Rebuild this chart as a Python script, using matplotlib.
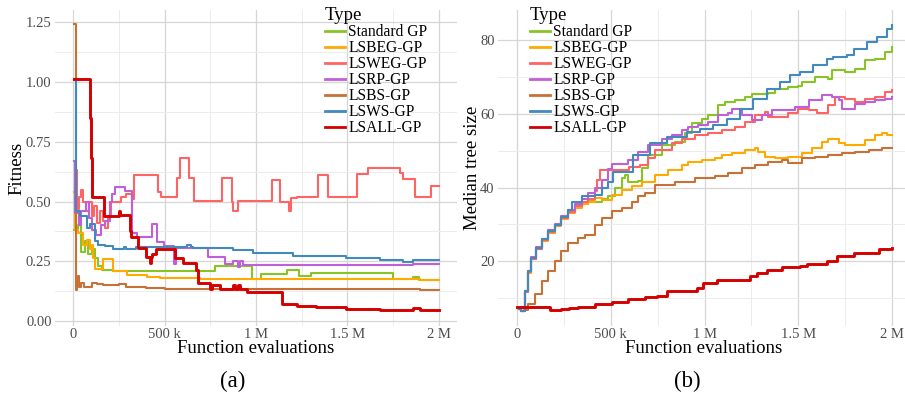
import matplotlib
matplotlib.use("Agg")
import matplotlib.pyplot as plt
from matplotlib.ticker import MultipleLocator, FuncFormatter
import numpy as np

plt.rcParams['font.family'] = ['Liberation Serif', 'DejaVu Serif']

series_names = ["Standard GP", "LSBEG-GP", "LSWEG-GP", "LSRP-GP", "LSBS-GP", "LSWS-GP", "LSALL-GP"]
series_colors = ["#88c425", "#ffaa00", "#ff6464", "#c060d8", "#c87137", "#4289be", "#d40000"]

# ---------------- Panel (a): Fitness (x in thousands of evaluations) ----------------
std_fit_x = [5, 27, 45, 64, 82, 100, 118, 136, 155, 218, 776, 976, 1030, 1170, 1235, 1300, 1750, 1858, 1894, 2000]
std_fit_y = [0.38, 0.40, 0.29, 0.335, 0.28, 0.30, 0.265, 0.23, 0.216, 0.208, 0.232, 0.175, 0.197, 0.212, 0.19, 0.202, 0.175, 0.186, 0.174, 0.174]

beg_fit_x = [3, 12, 27, 51, 73, 91, 100, 109, 118, 164, 220, 293, 402, 475, 694, 985, 1900, 2000]
beg_fit_y = [0.54, 0.38, 0.37, 0.32, 0.34, 0.30, 0.32, 0.265, 0.22, 0.26, 0.21, 0.195, 0.185, 0.18, 0.175, 0.178, 0.174, 0.174]

weg_fit_x = [8, 18, 30, 45, 55, 70, 85, 100, 115, 130, 145, 160, 175, 190, 205, 260, 290, 320, 335, 461, 480, 566, 585,
             636, 661, 812, 867, 876, 903, 1085, 1131, 1180, 1190, 1222, 1340, 1395, 1550, 1613, 1786, 1804, 1868, 1959, 2000]
weg_fit_y = [0.63, 0.47, 0.52, 0.55, 0.50, 0.46, 0.50, 0.44, 0.48, 0.41, 0.46, 0.42, 0.39, 0.44, 0.50, 0.52, 0.53, 0.51,
             0.61, 0.54, 0.52, 0.60, 0.68, 0.60, 0.504, 0.60, 0.50, 0.46, 0.504, 0.59, 0.50, 0.46, 0.514, 0.52, 0.61,
             0.52, 0.615, 0.64, 0.62, 0.593, 0.518, 0.563, 0.563]

rp_fit_x = [5, 12, 30, 45, 70, 85, 100, 125, 150, 175, 200, 210, 230, 285, 320, 350, 430, 458, 495, 552, 560, 740,
            830, 876, 903, 915, 930, 1859, 2000]
rp_fit_y = [0.67, 0.45, 0.40, 0.46, 0.50, 0.43, 0.38, 0.36, 0.40, 0.42, 0.50, 0.53, 0.56, 0.545, 0.37, 0.35, 0.405,
            0.33, 0.315, 0.24, 0.307, 0.27, 0.24, 0.25, 0.227, 0.25, 0.235, 0.24, 0.24]

bs_fit_x = [3, 14, 22, 28, 34, 45, 60, 100, 130, 165, 250, 290, 400, 500, 1900, 2000]
bs_fit_y = [1.24, 0.13, 0.17, 0.19, 0.145, 0.16, 0.145, 0.16, 0.155, 0.15, 0.155, 0.145, 0.137, 0.135, 0.132, 0.132]

ws_fit_x = [5, 16, 36, 73, 91, 118, 136, 173, 218, 280, 290, 346, 620, 645, 656, 876, 985, 1204, 1495, 1677, 1804, 1858, 2000]
ws_fit_y = [1.01, 0.46, 0.44, 0.39, 0.406, 0.335, 0.32, 0.314, 0.30, 0.31, 0.30, 0.312, 0.32, 0.31, 0.307, 0.297,
            0.283, 0.272, 0.265, 0.255, 0.249, 0.255, 0.255]

all_fit_x = [3, 93, 97, 100, 170, 250, 256, 310, 318, 355, 400, 420, 425, 430, 455, 555, 600, 673, 685, 703, 748, 760,
             803, 875, 885, 900, 915, 949, 1140, 1222, 1330, 1495, 1680, 1860, 1900, 2000]
all_fit_y = [1.01, 0.85, 0.68, 0.52, 0.44, 0.46, 0.445, 0.377, 0.35, 0.307, 0.27, 0.245, 0.27, 0.28, 0.30, 0.265, 0.245,
             0.216, 0.16, 0.158, 0.135, 0.15, 0.135, 0.15, 0.135, 0.15, 0.135, 0.12, 0.072, 0.065, 0.06, 0.05, 0.045,
             0.054, 0.046, 0.046]

# ---------------- Panel (b): Median tree size ----------------
std_sz_x = [10, 25, 43, 60, 78, 105, 132, 167, 203, 238, 274, 309, 345, 380, 416, 452, 487, 523, 558, 576, 595, 647,
            665, 700, 736, 772, 843, 896, 932, 985, 1020, 1074, 1109, 1163, 1216, 1252, 1340, 1376, 1447, 1500, 1518,
            1589, 1660, 1678, 1749, 1803, 1856, 1909, 1963, 2000]
std_sz_y = [7.0, 6.5, 11.9, 17.3, 20.9, 23.6, 25.9, 28.1, 29.9, 31.7, 33.5, 35.0, 35.5, 36.5, 36.2, 37.0, 37.6, 39.8,
            42.5, 43.4, 41.6, 41.8, 45.2, 48.8, 48.8, 51.5, 52.4, 54.7, 57.4, 58.7, 59.6, 62.3, 63.2, 63.7, 64.6, 65.5,
            65.7, 66.8, 67.3, 67.7, 68.6, 70.0, 69.5, 71.8, 71.4, 72.3, 74.5, 75.0, 76.8, 78.1]

beg_sz_x = [10, 25, 43, 60, 78, 105, 132, 167, 203, 238, 274, 309, 345, 380, 416, 452, 505, 558, 612, 665, 736, 807,
            878, 914, 985, 1056, 1092, 1145, 1216, 1270, 1287, 1323, 1376, 1447, 1518, 1572, 1625, 1660, 1714, 1749,
            1803, 1856, 1909, 1945, 1970, 2000]
beg_sz_y = [7.0, 6.5, 11.5, 16.8, 20.5, 23.2, 25.5, 27.7, 29.5, 31.5, 33.0, 34.5, 35.5, 36.2, 37.1, 36.5, 38.0, 39.4,
            40.3, 41.6, 43.4, 44.8, 46.1, 47.0, 47.5, 47.9, 48.8, 49.3, 50.2, 50.6, 49.7, 48.4, 47.9, 48.4, 49.3, 50.6,
            52.4, 53.3, 52.0, 51.5, 51.5, 52.9, 54.2, 54.7, 54.2, 54.2]

weg_sz_x = [10, 25, 43, 60, 78, 105, 132, 167, 203, 238, 274, 309, 345, 380, 416, 430, 445, 558, 600, 656, 700, 736,
            772, 825, 878, 949, 1020, 1092, 1163, 1216, 1270, 1323, 1340, 1376, 1447, 1500, 1554, 1600, 1625, 1660,
            1696, 1749, 1803, 1856, 1909, 1963, 2000]
weg_sz_y = [7.0, 6.5, 11.7, 17.0, 20.7, 23.4, 25.7, 28.0, 29.8, 31.6, 33.3, 35.0, 36.2, 37.0, 39.0, 42.0, 44.8, 44.8,
            45.5, 46.1, 47.9, 50.2, 50.2, 52.0, 53.3, 54.2, 54.7, 55.6, 56.5, 57.8, 59.6, 60.5, 59.2, 59.2, 60.1, 61.4,
            61.0, 60.1, 60.1, 62.3, 64.6, 64.1, 63.2, 64.1, 64.6, 65.8, 66.4]

rp_sz_x = [10, 25, 43, 60, 78, 105, 132, 167, 203, 238, 274, 309, 345, 380, 416, 452, 487, 505, 594, 647, 700, 772,
           825, 878, 914, 967, 1020, 1074, 1127, 1145, 1198, 1252, 1305, 1358, 1429, 1483, 1554, 1625, 1678, 1714,
           1732, 1803, 1856, 1909, 1963, 2000]
rp_sz_y = [7.0, 6.5, 12.0, 17.4, 21.0, 23.8, 26.1, 28.4, 30.2, 32.2, 34.0, 35.6, 37.0, 38.5, 40.0, 42.0, 45.0, 46.5,
           47.5, 49.7, 51.5, 53.3, 54.2, 55.6, 56.5, 56.9, 57.8, 59.6, 60.1, 61.4, 59.6, 58.3, 59.6, 61.0, 61.0, 61.9,
           63.7, 65.0, 64.6, 63.7, 61.4, 62.8, 63.2, 63.7, 64.1, 64.6]

bs_sz_x = [20, 40, 60, 96, 132, 167, 203, 238, 274, 327, 363, 416, 452, 505, 558, 612, 647, 683, 736, 843, 949, 1056,
           1127, 1198, 1270, 1340, 1411, 1447, 1518, 1589, 1660, 1732, 1803, 1874, 1945, 2000]
bs_sz_y = [6.5, 6.8, 8.3, 11.0, 14.6, 17.3, 20.0, 22.7, 25.0, 26.3, 27.2, 29.9, 31.7, 33.5, 34.4, 36.2, 37.6, 38.5,
           40.7, 41.6, 42.5, 43.0, 43.9, 45.2, 46.1, 47.0, 47.5, 46.6, 47.9, 48.4, 48.8, 49.3, 49.7, 50.2, 50.6, 50.6]

ws_sz_x = [10, 25, 43, 60, 78, 105, 132, 167, 203, 238, 274, 292, 327, 345, 380, 416, 452, 487, 514, 621, 709, 798,
           905, 976, 1047, 1118, 1189, 1260, 1332, 1403, 1456, 1510, 1580, 1652, 1687, 1758, 1794, 1865, 1918, 1972, 2000]
ws_sz_y = [7.0, 6.5, 11.9, 17.3, 20.9, 23.6, 25.9, 28.1, 29.9, 31.9, 33.8, 36.2, 36.2, 37.6, 37.6, 38.0, 39.8, 41.6,
           44.3, 48.8, 52.0, 53.8, 55.1, 56.0, 56.9, 58.7, 61.4, 64.1, 66.8, 68.6, 70.5, 71.4, 73.2, 75.0, 75.4, 75.9,
           77.7, 79.5, 80.8, 83.1, 84.0]

all_sz_x = [0, 176, 238, 280, 327, 416, 443, 505, 594, 683, 745, 798, 958, 994, 1065, 1243, 1278, 1332, 1412, 1510,
            1545, 1652, 1705, 1794, 1927, 2000]
all_sz_y = [7.6, 6.7, 7.0, 7.2, 7.6, 8.3, 8.5, 8.9, 9.6, 10.3, 10.5, 11.9, 12.6, 14.1, 14.8, 15.9, 16.8, 17.6, 18.4,
            18.6, 19.3, 20.0, 21.4, 22.3, 23.3, 23.6]

fit_data = [(std_fit_x, std_fit_y), (beg_fit_x, beg_fit_y), (weg_fit_x, weg_fit_y), (rp_fit_x, rp_fit_y),
            (bs_fit_x, bs_fit_y), (ws_fit_x, ws_fit_y), (all_fit_x, all_fit_y)]
size_data = [(std_sz_x, std_sz_y), (beg_sz_x, beg_sz_y), (weg_sz_x, weg_sz_y), (rp_sz_x, rp_sz_y),
             (bs_sz_x, bs_sz_y), (ws_sz_x, ws_sz_y), (all_sz_x, all_sz_y)]

W, H = 905, 396
fig = plt.figure(figsize=(W / 100, H / 100), dpi=100)

def px_axes(x0, y0, x1, y1):
    return fig.add_axes([x0 / W, 1 - y1 / H, (x1 - x0) / W, (y1 - y0) / H])

ax1 = px_axes(55, 10, 457, 326)
ax2 = px_axes(498, 10, 911, 326)

def xfmt(v, pos):
    if v == 0:
        return "0"
    if v < 1e6:
        return f"{v/1000:g} k"
    return f"{v/1e6:g} M"

for ax in (ax1, ax2):
    for s in ax.spines.values():
        s.set_visible(False)
    ax.set_xlim(-100000, 2100000)
    ax.xaxis.set_major_locator(MultipleLocator(500000))
    ax.xaxis.set_minor_locator(MultipleLocator(250000))
    ax.xaxis.set_major_formatter(FuncFormatter(xfmt))
    ax.grid(which='major', color='#d6d6d6', linewidth=0.9)
    ax.grid(which='minor', color='#ececec', linewidth=0.7)
    ax.set_axisbelow(True)
    ax.tick_params(which='both', length=0, labelsize=10.5, labelcolor='#4d4d4d')
    ax.tick_params(axis='x', pad=1.5)
    ax.tick_params(axis='y', pad=2.5)

for (xs, ys), name, col in zip(fit_data, series_names, series_colors):
    lw = 2.1 if name == "LSALL-GP" else 1.5
    ax1.step(np.array(xs) * 1000, ys, where='post', color=col, lw=lw, label=name)

for (xs, ys), name, col in zip(size_data, series_names, series_colors):
    lw = 2.1 if name == "LSALL-GP" else 1.5
    ax2.step(np.array(xs) * 1000, ys, where='post', color=col, lw=lw, label=name)

ax1.set_ylim(-0.02, 1.30)
ax1.yaxis.set_major_locator(MultipleLocator(0.25))
ax1.yaxis.set_minor_locator(MultipleLocator(0.125))
ax1.yaxis.set_major_formatter(FuncFormatter(lambda v, p: f"{v:.2f}"))

ax2.set_ylim(2.4, 88.2)
ax2.yaxis.set_major_locator(MultipleLocator(20))
ax2.yaxis.set_minor_locator(MultipleLocator(10))

for ax, lx in ((ax1, 325), (ax2, 530)):
    leg = ax.legend(loc='upper left', bbox_to_anchor=(lx / W, 1 - 7 / H), bbox_transform=fig.transFigure,
                    frameon=False, title="Type", fontsize=11.2, title_fontsize=13.5, handlelength=1.3,
                    handletextpad=0.2, labelspacing=0.0, borderpad=0, borderaxespad=0, alignment='left')
    for h in leg.legend_handles:
        h.set_linewidth(2.0)

fig.text(256 / W, 1 - 348.5 / H, "Function evaluations", ha='center', va='center', fontsize=13.5)
fig.text(704 / W, 1 - 348.5 / H, "Function evaluations", ha='center', va='center', fontsize=13.5)
fig.text(17 / W, 1 - 168 / H, "Fitness", ha='center', va='center', rotation=90, fontsize=13.5)
fig.text(472 / W, 1 - 168 / H, "Median tree size", ha='center', va='center', rotation=90, fontsize=13.5)
fig.text(233 / W, 1 - 381 / H, "(a)", ha='center', va='center', fontsize=16.5)
fig.text(687 / W, 1 - 381 / H, "(b)", ha='center', va='center', fontsize=16.5)

fig.savefig("out.png", dpi=100)
